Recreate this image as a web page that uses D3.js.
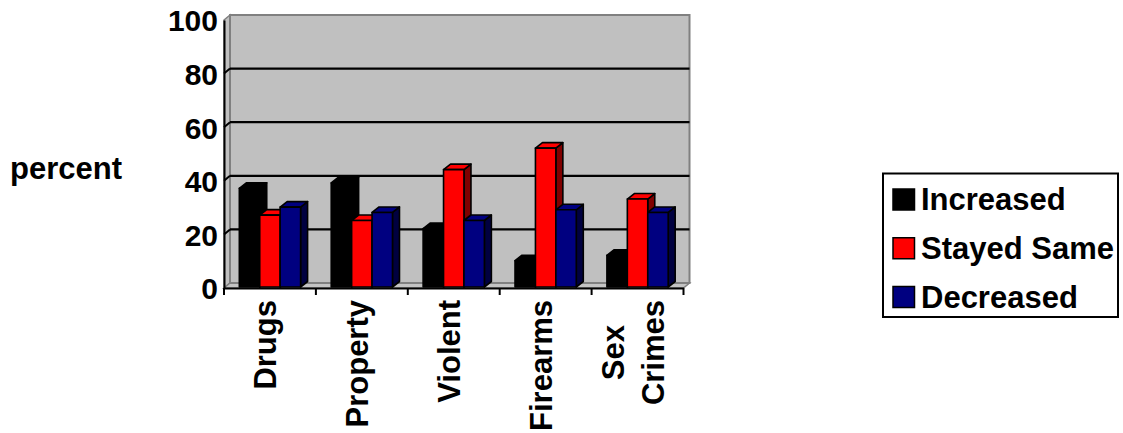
<!DOCTYPE html>
<html>
<head>
<meta charset="utf-8">
<script src="https://cdn.jsdelivr.net/npm/d3@7"></script>
<style>
  html, body { margin: 0; padding: 0; background: #fff; }
  svg { display: block; }
  text { font-family: "Liberation Sans", Arial, sans-serif; font-weight: bold; fill: #000; }
</style>
</head>
<body>
<svg id="chart" width="1123" height="433"></svg>
<script>
// ---- data ----
const categories = ["Drugs", "Property", "Violent", "Firearms", "Sex Crimes"];
const categoryLines = [["Drugs"], ["Property"], ["Violent"], ["Firearms"], ["Sex", "Crimes"]];
const seriesNames = ["Increased", "Stayed Same", "Decreased"];
const increased = [37, 39, 22, 10, 12];
const stayedSame = [27, 25, 44, 52, 33];
const decreased = [30, 28, 25, 29, 28];
const yTicks = [0, 20, 40, 60, 80, 100];
const seriesColors = ["#000000", "#ff0000", "#000080"];
const sideColors = ["#000000", "#800000", "#000040"];
const yTitle = "percent";

const seriesValues = [increased, stayedSame, decreased];

// ---- layout ----
const svg = d3.select("#chart");
const front = { left: 224, right: 683.5, bottom: 288, top: 20 };
const wallD = { dx: 6, dy: -5 };
const barD = { dx: 7, dy: -5.5 };

const y = d3.scaleLinear().domain([0, 100]).range([front.bottom, front.top]);
const x0 = d3.scaleBand().domain(categories).range([front.left, front.right]).padding(0);
const x1 = d3.scaleBand().domain(seriesNames).range([0, x0.bandwidth()]).paddingInner(0).paddingOuter(0.75);

const g = svg.append("g");

// back wall
const bw = { l: front.left + wallD.dx, r: front.right + wallD.dx, t: y(100) + wallD.dy, b: y(0) + wallD.dy };
// side wall
g.append("polygon")
  .attr("points", [[front.left, y(100)], [bw.l, bw.t], [bw.l, bw.b], [front.left, y(0)]].map(p => p.join(",")).join(" "))
  .attr("fill", "#c0c0c0").attr("stroke", "#808080").attr("stroke-width", 1.5);
// floor
g.append("polygon")
  .attr("points", [[front.left, y(0)], [front.right, y(0)], [bw.r, bw.b], [bw.l, bw.b]].map(p => p.join(",")).join(" "))
  .attr("fill", "#c4c4c4").attr("stroke", "#808080").attr("stroke-width", 1.5);
// back wall
g.append("rect")
  .attr("x", bw.l).attr("y", bw.t).attr("width", bw.r - bw.l).attr("height", bw.b - bw.t)
  .attr("fill", "#c0c0c0").attr("stroke", "#808080").attr("stroke-width", 2);

// gridlines
yTicks.filter(v => v > 0 && v < 100).forEach(v => {
  const yb = y(v) + wallD.dy;
  g.append("line").attr("x1", bw.l).attr("x2", bw.r).attr("y1", yb).attr("y2", yb)
    .attr("stroke", "#000").attr("stroke-width", 2.2);
  g.append("line").attr("x1", front.left).attr("y1", y(v)).attr("x2", bw.l).attr("y2", yb)
    .attr("stroke", "#000").attr("stroke-width", 2);
});

// bars
categories.forEach((c, ci) => {
  seriesNames.forEach((s, si) => {
    const v = seriesValues[si][ci];
    const xl = x0(c) + x1(s);
    const xr = xl + x1.bandwidth();
    const yt = y(v) - 0.5;
    const yb = y(0) - 1;
    const bg = g.append("g").attr("stroke", "#000").attr("stroke-width", 1.6).attr("stroke-linejoin", "round");
    // side face
    bg.append("polygon")
      .attr("points", [[xr, yt], [xr + barD.dx, yt + barD.dy], [xr + barD.dx, yb + barD.dy], [xr, yb]].map(p => p.join(",")).join(" "))
      .attr("fill", sideColors[si]);
    // top face
    bg.append("polygon")
      .attr("points", [[xl, yt], [xl + barD.dx, yt + barD.dy], [xr + barD.dx, yt + barD.dy], [xr, yt]].map(p => p.join(",")).join(" "))
      .attr("fill", seriesColors[si]);
    // front face
    bg.append("rect").attr("x", xl).attr("y", yt).attr("width", xr - xl).attr("height", yb - yt)
      .attr("fill", seriesColors[si]);
  });
});

// axes lines
const xAxis = d3.axisBottom(x0).tickSize(0).tickFormat("");
g.append("g").attr("transform", `translate(0,${front.bottom})`).call(xAxis)
  .call(a => a.select(".domain").attr("stroke", "#000").attr("stroke-width", 2));
// x ticks at band boundaries
const boundaries = categories.map(c => x0(c)).concat([front.right]);
boundaries.forEach(bx => {
  g.append("line").attr("x1", bx).attr("x2", bx).attr("y1", front.bottom).attr("y2", front.bottom + 7)
    .attr("stroke", "#000").attr("stroke-width", 2);
});
// y axis
const yAxis = d3.axisLeft(y).tickValues(yTicks).tickSize(0).tickPadding(6);
const ya = g.append("g").attr("transform", `translate(${front.left},0)`).call(yAxis);
ya.select(".domain").attr("stroke", "#000").attr("stroke-width", 2);
ya.selectAll("text").attr("font-size", 30).attr("font-family", '"Liberation Sans", Arial, sans-serif')
  .attr("font-weight", "bold").attr("fill", "#000").attr("dy", "0.36em").attr("x", -6);

// category labels (rotated)
categories.forEach((c, ci) => {
  const lines = categoryLines[ci];
  const cx = x0(c) + x0.bandwidth() / 2;
  const t = g.append("text").attr("font-size", 31);
  const spans = lines.map(l => t.append("tspan").text(l));
  const lens = spans.map(s => s.node().getComputedTextLength());
  const maxLen = d3.max(lens);
  const n = lines.length;
  spans.forEach((s, i) => {
    const bx = cx + 6.5 + (i - (n - 1) / 2) * 40;
    s.attr("text-anchor", "middle");
    s.attr("x", -(300 + maxLen / 2)).attr("y", bx);
  });
  t.attr("transform", "rotate(-90)");
});

// y title
g.append("text").attr("x", 10).attr("y", 179).attr("font-size", 31).text(yTitle);

// legend
const lg = g.append("g");
lg.append("rect").attr("x", 883).attr("y", 173.5).attr("width", 235).attr("height", 143.5)
  .attr("fill", "#fff").attr("stroke", "#000").attr("stroke-width", 2);
const rowY = d3.scalePoint().domain(seriesNames).range([199.5, 297]);
seriesNames.forEach((s, si) => {
  const cy = rowY(s);
  lg.append("rect").attr("x", 893).attr("y", cy - 10.5).attr("width", 21.5).attr("height", 21)
    .attr("fill", seriesColors[si]).attr("stroke", "#000").attr("stroke-width", 1.5);
  lg.append("text").attr("x", 921).attr("y", cy + 10.8).attr("font-size", 31).text(s);
});
</script>
</body>
</html>
